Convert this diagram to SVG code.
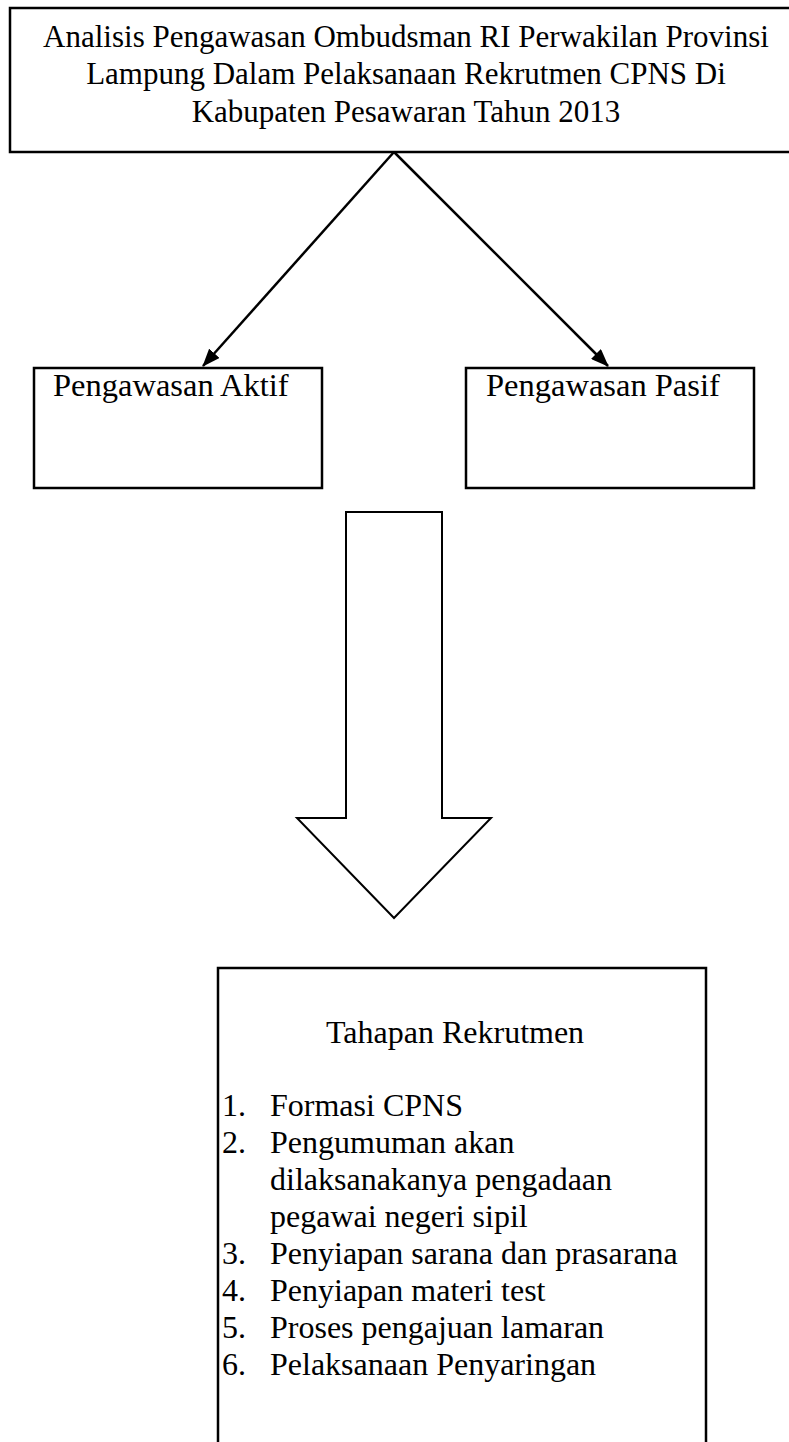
<svg xmlns="http://www.w3.org/2000/svg" width="789" height="1442" viewBox="0 0 789 1442">
<style>
.box{fill:#fff;stroke:#000;stroke-width:2.5}
.t{font-family:"Liberation Serif","Times New Roman",serif;font-size:32px;fill:#000}
.tt{font-size:31px}
.tb{font-size:32.5px}
.c{text-anchor:middle}
.conn{stroke:#000;stroke-width:2.5;fill:none}
</style>
<defs>
<marker id="ah" markerWidth="18" markerHeight="14" refX="17" refY="7" orient="auto" markerUnits="userSpaceOnUse" viewBox="0 0 18 14">
<path d="M0,0 L18,7 L0,14 Z" fill="#000"/>
</marker>
</defs>
<rect width="789" height="1442" fill="#fff"/>
<g id="title">
<rect class="box" x="10" y="8" width="800" height="144"/>
<text class="t tt c" x="406" y="47">Analisis Pengawasan Ombudsman RI Perwakilan Provinsi</text>
<text class="t tt c" x="406" y="84">Lampung Dalam Pelaksanaan Rekrutmen CPNS Di</text>
<text class="t tt c" x="406" y="122">Kabupaten Pesawaran Tahun 2013</text>
</g>
<g id="connectors">
<line class="conn" x1="394" y1="152" x2="203" y2="366" marker-end="url(#ah)"/>
<line class="conn" x1="394" y1="152" x2="608" y2="366" marker-end="url(#ah)"/>
</g>
<g id="aktif">
<rect class="box" x="34" y="368" width="288" height="120"/>
<text class="t tb" x="53" y="396">Pengawasan Aktif</text>
</g>
<g id="pasif">
<rect class="box" x="466" y="368" width="288" height="120"/>
<text class="t tb" x="486" y="396">Pengawasan Pasif</text>
</g>
<g id="block-arrow">
<path d="M346,512 L442,512 L442,818 L491,818 L394,918 L297,818 L346,818 Z" fill="#fff" stroke="#000" stroke-width="2"/>
</g>
<g id="tahapan">
<rect class="box" x="218" y="968" width="488" height="500"/>
<text class="t" x="326" y="1043">Tahapan Rekrutmen</text>
<text class="t" x="222" y="1116">1.</text><text class="t" x="270" y="1116">Formasi CPNS</text>
<text class="t" x="222" y="1153">2.</text><text class="t" x="270" y="1153">Pengumuman akan</text>
<text class="t" x="270" y="1190">dilaksanakanya pengadaan</text>
<text class="t" x="270" y="1227">pegawai negeri sipil</text>
<text class="t" x="222" y="1264">3.</text><text class="t" x="270" y="1264">Penyiapan sarana dan prasarana</text>
<text class="t" x="222" y="1301">4.</text><text class="t" x="270" y="1301">Penyiapan materi test</text>
<text class="t" x="222" y="1338">5.</text><text class="t" x="270" y="1338">Proses pengajuan lamaran</text>
<text class="t" x="222" y="1375">6.</text><text class="t" x="270" y="1375">Pelaksanaan Penyaringan</text>
</g>
</svg>
